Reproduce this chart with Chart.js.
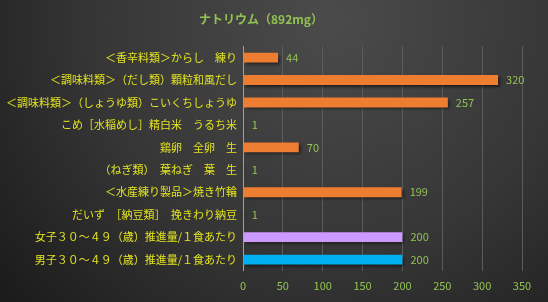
<!DOCTYPE html>
<html>
<head>
<meta charset="utf-8">
<script src="https://cdn.jsdelivr.net/npm/chart.js@4"></script>
<style>
  html, body { margin: 0; padding: 0; background: #2b2b2b; }
  #wrap { width: 548px; height: 302px; position: relative; }
</style>
</head>
<body>
<div id="wrap"><canvas id="sodium-chart" width="548" height="302"></canvas></div>
<script>
// data
const titleText = "ナトリウム（892mg）";
const foodNames = [
    "＜香辛料類＞からし　練り",
    "＜調味料類＞（だし類）顆粒和風だし",
    "＜調味料類＞（しょうゆ類）こいくちしょうゆ",
    "こめ［水稲めし］精白米　うるち米",
    "鶏卵　全卵　生",
    "（ねぎ類）　葉ねぎ　葉　生",
    "＜水産練り製品＞焼き竹輪",
    "だいず　［納豆類］　挽きわり納豆",
    "女子３０～４９（歳）推進量/１食あたり",
    "男子３０～４９（歳）推進量/１食あたり"
];
const sodiumValues = [44, 320, 257, 1, 70, 1, 199, 1, 200, 200];
const xTicks = [0, 50, 100, 150, 200, 250, 300, 350];

// colours
const barColors = foodNames.map((name, i) => {
    if (i === foodNames.length - 2) return "#cc99ff";
    if (i === foodNames.length - 1) return "#00b0f0";
    return "#ed7d31";
});

const FONT = "'Noto Sans CJK JP', 'Noto Sans', sans-serif";
const ctx = document.getElementById("sodium-chart").getContext("2d");

// dark gradient background
const bgPlugin = {
    id: "bg",
    beforeDraw(chart) {
        const c = chart.ctx;
        const g = c.createRadialGradient(330, 20, 10, 330, 20, 420);
        g.addColorStop(0, "#4a4a4a");
        g.addColorStop(0.55, "#363636");
        g.addColorStop(1, "#1c1c1c");
        c.save();
        c.fillStyle = g;
        c.fillRect(0, 0, chart.width, chart.height);
        c.restore();
    }
};

// soft shadow under bars
const shadowPlugin = {
    id: "barShadow",
    beforeDatasetDraw(chart) {
        const c = chart.ctx;
        c.save();
        c.shadowColor = "rgba(0,0,0,0.55)";
        c.shadowBlur = 3;
        c.shadowOffsetX = 2;
        c.shadowOffsetY = 2;
    },
    afterDatasetDraw(chart) {
        chart.ctx.restore();
    }
};

// value labels to the right of each bar
const valueLabels = {
    id: "valueLabels",
    afterDatasetsDraw(chart) {
        const c = chart.ctx;
        const meta = chart.getDatasetMeta(0);
        c.save();
        c.font = "11px " + FONT;
        c.fillStyle = "#92c353";
        c.textBaseline = "middle";
        c.textAlign = "left";
        meta.data.forEach((bar, i) => {
            c.fillText(String(sodiumValues[i]), bar.x + 8, bar.y);
        });
        c.restore();
    }
};

new Chart(ctx, {
    type: "bar",
    data: {
        labels: foodNames,
        datasets: [{
            data: sodiumValues,
            backgroundColor: barColors,
            borderWidth: 0,
            barPercentage: 0.44,
            categoryPercentage: 1
        }]
    },
    options: {
        indexAxis: "y",
        responsive: false,
        animation: false,
        devicePixelRatio: 1,
        layout: { padding: { top: 12, right: 26, bottom: 2, left: 0 } },
        plugins: {
            legend: { display: false },
            tooltip: { enabled: false },
            title: {
                display: true,
                text: titleText,
                color: "#92c353",
                font: { family: FONT, size: 12, weight: "bold" },
                padding: { top: 0, bottom: 20 }
            }
        },
        scales: {
            x: {
                min: 0,
                max: 350,
                afterBuildTicks(scale) {
                    scale.ticks = xTicks.map(v => ({ value: v }));
                },
                grid: { color: "#5c5c5c", lineWidth: 1, drawTicks: false },
                border: { display: false },
                ticks: {
                    color: "#92c353",
                    font: { family: FONT, size: 11 },
                    padding: 8
                }
            },
            y: {
                afterFit(scale) { scale.width = 243; },
                grid: { display: false, drawTicks: false },
                border: { display: true, color: "#a0a0a0", width: 1 },
                ticks: {
                    color: "#e3e322",
                    font: { family: FONT, size: 11 },
                    padding: 6
                }
            }
        }
    },
    plugins: [bgPlugin, shadowPlugin, valueLabels]
});
</script>
</body>
</html>
